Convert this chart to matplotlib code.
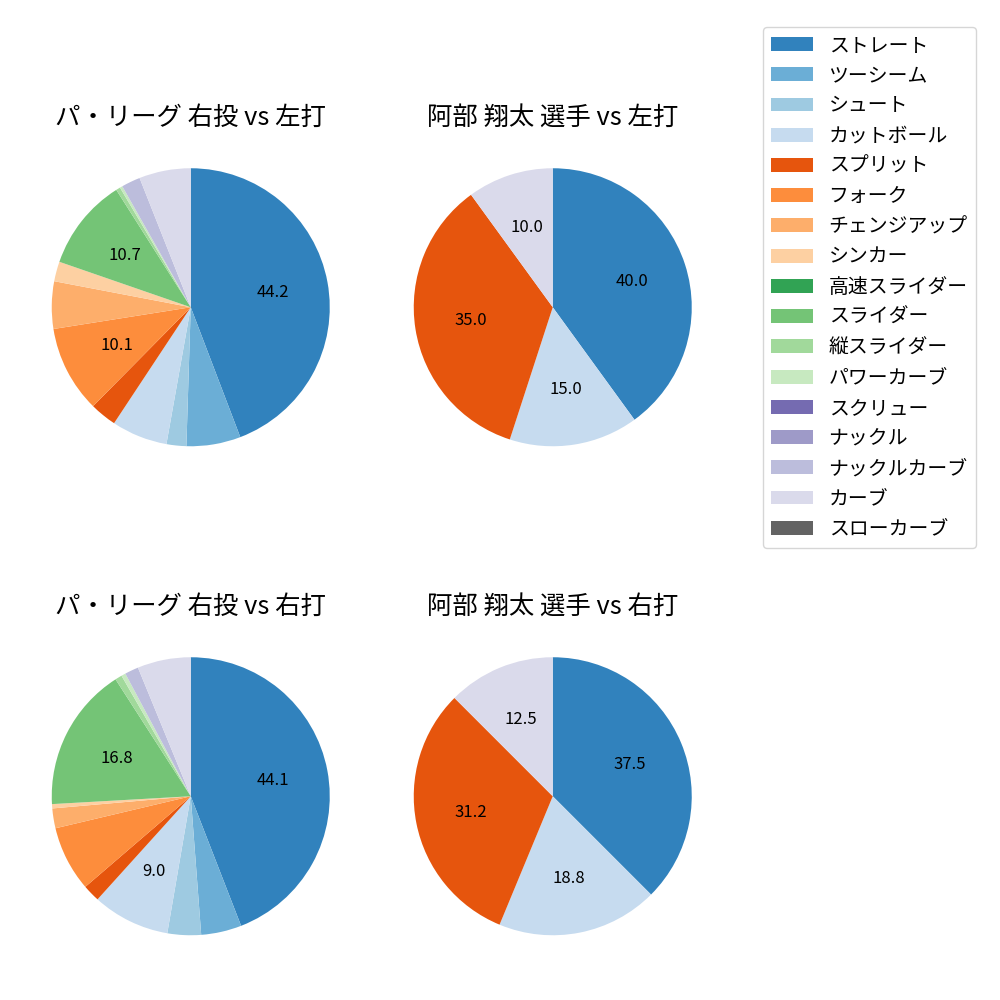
import matplotlib
matplotlib.use('Agg')
import matplotlib.pyplot as plt
from matplotlib.patches import Patch
import numpy as np

plt.rcParams['font.family'] = ['Noto Sans CJK JP', 'DejaVu Sans']

# pitch types, legend order (tab20c colours in this order)
pitch_types = ['ストレート', 'ツーシーム', 'シュート', 'カットボール', 'スプリット', 'フォーク',
               'チェンジアップ', 'シンカー', '高速スライダー', 'スライダー', '縦スライダー',
               'パワーカーブ', 'スクリュー', 'ナックル', 'ナックルカーブ', 'カーブ', 'スローカーブ']

# share of pitches (%) per panel, same order as pitch_types
league_vs_left = [44.2, 6.3, 2.3, 6.5, 3.1, 10.1, 5.5, 2.3, 0.0, 10.7, 0.5, 0.3, 0.0, 0.0, 2.2, 6.0, 0.0]
abe_vs_left = [8, 0, 0, 3, 7, 0, 0, 0, 0, 0, 0, 0, 0, 0, 0, 2, 0]
league_vs_right = [44.1, 4.7, 3.9, 9.0, 2.0, 7.6, 2.3, 0.5, 0.0, 16.8, 0.8, 0.5, 0.0, 0.0, 1.6, 6.2, 0.0]
abe_vs_right = [6, 0, 0, 3, 5, 0, 0, 0, 0, 0, 0, 0, 0, 0, 0, 2, 0]

titles = ['パ・リーグ 右投 vs 左打', '阿部 翔太 選手 vs 左打',
          'パ・リーグ 右投 vs 右打', '阿部 翔太 選手 vs 右打']
panels = [league_vs_left, abe_vs_left, league_vs_right, abe_vs_right]

cmap = plt.get_cmap('tab20c')
colors = [cmap(i) for i in range(len(pitch_types))]

fig = plt.figure(figsize=(10, 10), dpi=100)
boxes = [(0.017, 0.519), (0.379, 0.519), (0.017, 0.030), (0.379, 0.030)]
size = 0.3475


def autopct(p):
    return '%.1f' % p if p >= 8 else ''


for (left, bottom), vals, title in zip(boxes, panels, titles):
    ax = fig.add_axes([left, bottom, size, size])
    vals = np.array(vals, dtype=float)
    keep = vals > 0
    ax.pie(vals[keep], colors=[c for c, k in zip(colors, keep) if k],
           startangle=90, counterclock=False, autopct=autopct,
           textprops={'fontsize': 12})
    ax.set_title(title, fontsize=18.3)

handles = [Patch(facecolor=c, label=n) for c, n in zip(colors, pitch_types)]
fig.legend(handles=handles, loc='upper left', bbox_to_anchor=(0.763, 0.973),
           borderaxespad=0, fontsize=14.3, labelspacing=0.465, handlelength=2.1)

fig.savefig('out.png', dpi=100)
